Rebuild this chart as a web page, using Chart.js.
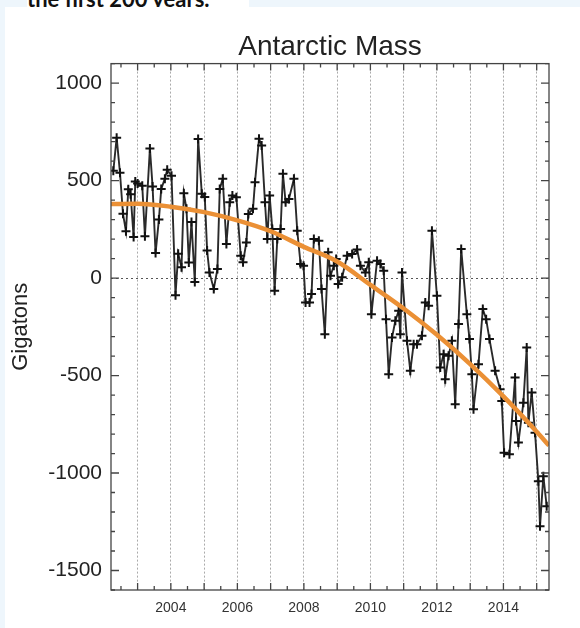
<!DOCTYPE html>
<html>
<head>
<meta charset="utf-8">
<script src="https://cdn.jsdelivr.net/npm/chart.js@4.4.0/dist/chart.umd.min.js"></script>
<style>
html,body{margin:0;padding:0;background:#eef6fc;width:580px;height:628px;overflow:hidden;}
#head{position:absolute;left:27px;top:0;width:222px;height:7px;background:#fff;overflow:hidden;}
#head span{position:absolute;left:0;top:-15px;font:bold 22px Lato,"Open Sans",sans-serif;color:#111;white-space:nowrap;}
#panel{position:absolute;left:5px;top:7px;width:575px;height:621px;background:#fff;}
</style>
</head>
<body>
<div id="head"><span>the first 200 years.</span></div>
<div id="panel"><canvas id="mass" width="575" height="621"></canvas></div>
<script>
// GRACE monthly solutions
const monthYears = [
  2002.27,2002.37,2002.47,2002.56,2002.65,2002.72,2002.79,2002.88,2002.93,2003.00,
  2003.14,2003.22,2003.37,2003.45,2003.54,2003.64,2003.71,2003.82,2003.89,2004.02,
  2004.14,2004.22,2004.32,2004.39,2004.47,2004.54,2004.62,2004.72,2004.82,2004.93,
  2005.02,2005.09,2005.16,2005.29,2005.40,2005.47,2005.56,2005.67,2005.77,2005.85,
  2005.97,2006.10,2006.17,2006.27,2006.33,2006.47,2006.53,2006.65,2006.73,2006.83,
  2006.90,2006.97,2007.05,2007.12,2007.20,2007.30,2007.37,2007.45,2007.55,2007.70,
  2007.80,2007.90,2007.99,2008.05,2008.17,2008.23,2008.30,2008.45,2008.53,2008.63,
  2008.73,2008.80,2008.90,2008.97,2009.03,2009.15,2009.30,2009.45,2009.60,2009.70,
  2009.85,2009.95,2010.03,2010.20,2010.30,2010.40,2010.47,2010.55,2010.65,2010.75,
  2010.85,2010.90,2010.95,2011.10,2011.20,2011.30,2011.40,2011.55,2011.65,2011.75,
  2011.85,2012.00,2012.10,2012.20,2012.25,2012.35,2012.45,2012.55,2012.65,2012.73,
  2012.90,2012.98,2013.05,2013.10,2013.25,2013.38,2013.48,2013.58,2013.75,2013.90,
  2013.95,2014.02,2014.18,2014.35,2014.38,2014.45,2014.60,2014.70,2014.75,2014.85,
  2014.95,2015.05,2015.10,2015.20,2015.30
];
const massValues = [
  550,720,540,330,240,455,430,210,495,485,
  473,215,665,470,128,300,457,510,555,525,
  -88,125,55,435,355,80,287,-20,713,433,
  416,141,29,-56,46,457,509,175,389,423,
  415,115,81,183,329,355,492,714,680,389,
  200,423,252,-65,200,252,535,389,406,509,
  243,72,63,-125,-125,-82,200,192,-56,-288,
  132,12,63,98,-31,4,115,124,146,63,
  29,81,-185,89,72,38,-211,-493,-305,-219,
  -168,-288,29,-322,-476,-339,-339,-296,-125,-142,
  243,-91,-459,-391,-519,-399,-322,-647,-236,149,
  -185,-313,-493,-673,-442,-159,-211,-313,-476,-570,
  -630,-896,-904,-510,-733,-844,-639,-356,-742,-587,
  -793,-1042,-1273,-1016,-1170
];
// orange trend curve
const fitYears  = [2002.2,2003,2004,2005,2006,2007,2008,2009,2010,2011,2012,2013,2014,2015,2015.37];
const fitValues = [380,381,366,338,296,240,160,85,-35,-156,-291,-441,-607,-788,-859];

const gridYears  = [2003,2004,2005,2006,2007,2008,2009,2010,2011,2012,2013,2014,2015];
const labelYears = [2004,2006,2008,2010,2012,2014];
const yTicks     = [-1500,-1000,-500,0,500,1000];

Chart.defaults.font.family = "'Liberation Sans', Arial, Helvetica, sans-serif";

// IDL style frame with inward ticks on all four sides
const frameTicks = {
  id: 'frameTicks',
  afterDraw(chart) {
    const {ctx, chartArea: a, scales: {x, y}} = chart;
    ctx.save();
    ctx.strokeStyle = '#444';
    ctx.lineWidth = 1.3;
    ctx.strokeRect(a.left, a.top, a.right - a.left, a.bottom - a.top);
    ctx.beginPath();
    for (let v = -1600; v <= 1100; v += 100) {
      const py = y.getPixelForValue(v);
      const len = v % 500 === 0 ? 8 : 4;
      ctx.moveTo(a.left, py); ctx.lineTo(a.left + len, py);
      ctx.moveTo(a.right, py); ctx.lineTo(a.right - len, py);
    }
    for (let yr = 2002.5; yr <= 2015.3; yr += 0.5) {
      const px = x.getPixelForValue(yr);
      const len = Number.isInteger(yr) ? 7 : 4;
      ctx.moveTo(px, a.bottom); ctx.lineTo(px, a.bottom - len);
      ctx.moveTo(px, a.top); ctx.lineTo(px, a.top + len);
    }
    ctx.stroke();
    ctx.restore();
  }
};

new Chart(document.getElementById('mass'), {
  type: 'line',
  data: {
    datasets: [
      {
        label: 'trend',
        data: fitYears.map((t, i) => ({x: t, y: fitValues[i]})),
        borderColor: '#eb9035',
        borderWidth: 4.5,
        pointRadius: 0,
        cubicInterpolationMode: 'monotone',
        order: 0
      },
      {
        label: 'mass',
        data: monthYears.map((t, i) => ({x: t, y: massValues[i]})),
        borderColor: '#2a2a2a',
        borderWidth: 1.9,
        pointStyle: 'cross',
        pointRadius: 4.5,
        pointBorderColor: '#111',
        pointBorderWidth: 2,
        tension: 0,
        order: 1
      }
    ]
  },
  options: {
    responsive: false,
    animation: false,
    layout: {padding: {left: 0, right: 31, top: 0, bottom: 0}},
    plugins: {
      legend: {display: false},
      tooltip: {enabled: false},
      title: {
        display: true,
        text: 'Antarctic Mass',
        fullSize: false,
        color: '#222',
        font: {size: 28, weight: 'normal'},
        padding: {top: 23, bottom: 0}
      }
    },
    scales: {
      x: {
        type: 'linear',
        min: 2002.2,
        max: 2015.37,
        afterBuildTicks: s => { s.ticks = gridYears.map(v => ({value: v})); },
        ticks: {
          callback: v => labelYears.includes(v) ? String(v) : '',
          color: '#333',
          font: {size: 14},
          padding: 10,
          maxRotation: 0,
          autoSkip: false
        },
        grid: {color: '#aaa', drawTicks: false, lineWidth: 1},
        border: {display: false, dash: [2, 2]},
        afterFit: s => { s.height = 38; }
      },
      y: {
        min: -1600,
        max: 1100,
        afterBuildTicks: s => { s.ticks = yTicks.map(v => ({value: v})); },
        ticks: {color: '#222', font: {size: 21}, padding: 9, callback: v => String(v)},
        grid: {
          color: c => (c.tick && c.tick.value === 0) ? '#555' : 'rgba(0,0,0,0)',
          drawTicks: false
        },
        border: {display: false, dash: [2, 3]},
        title: {
          display: true,
          text: 'Gigatons',
          color: '#222',
          font: {size: 22},
          padding: {top: 3, bottom: 0}
        },
        afterFit: s => { s.width = 106; }
      }
    }
  },
  plugins: [frameTicks]
});
</script>
</body>
</html>
